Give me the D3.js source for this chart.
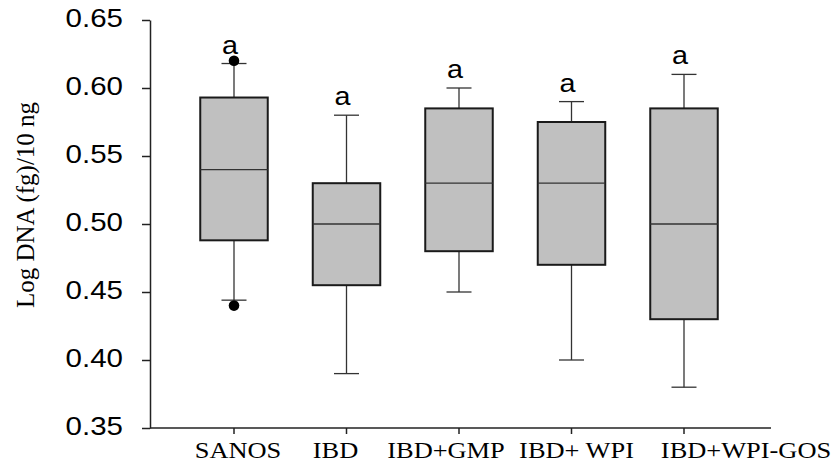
<!DOCTYPE html>
<html>
<head>
<meta charset="utf-8">
<script src="https://cdn.jsdelivr.net/npm/d3@7"></script>
<style>
  html, body { margin: 0; padding: 0; background: #fff; }
  svg { display: block; }
</style>
</head>
<body>
<script>
// Group names and box-plot summaries (10th, 25th, 50th, 75th, 90th percentiles)
const categories = ["SANOS", "IBD", "IBD+GMP", "IBD+ WPI", "IBD+WPI-GOS"];
const whiskerLow  = [0.444, 0.390, 0.450, 0.400, 0.380];
const quartile1   = [0.488, 0.455, 0.480, 0.470, 0.430];
const medians     = [0.540, 0.500, 0.530, 0.530, 0.500];
const quartile3   = [0.593, 0.530, 0.585, 0.575, 0.585];
const whiskerHigh = [0.618, 0.580, 0.600, 0.590, 0.610];
// Points outside the whiskers
const outlierGroups = ["SANOS", "SANOS"];
const outlierValues = [0.620, 0.440];
// Significance letters above each group
const letters = ["a", "a", "a", "a", "a"];
const yTicks = [0.35, 0.40, 0.45, 0.50, 0.55, 0.60, 0.65];

const W = 835, H = 465;
const svg = d3.select("body").append("svg").attr("width", W).attr("height", H);

const y = d3.scaleLinear().domain([0.35, 0.65]).range([428, 20]);
const x = d3.scaleBand().domain(categories).range([177.75, 740.25])
  .paddingInner(0.4).paddingOuter(0.2);

const sans = "'Liberation Sans', Arial, Helvetica, sans-serif";
const serif = "'Liberation Serif', 'Times New Roman', Times, serif";

// Y axis
const tickStretch = 1.18;
const yAxis = svg.append("g").attr("transform", "translate(150,0)")
  .call(d3.axisLeft(y).tickValues(yTicks).tickFormat(d3.format(".2f"))
    .tickSize(8).tickPadding(19).tickSizeOuter(0));
yAxis.select(".domain").attr("stroke", "#222").attr("stroke-width", 1.5);
yAxis.selectAll(".tick line").attr("stroke", "#222").attr("stroke-width", 1.5);
yAxis.selectAll(".tick text")
  .attr("font-family", sans).attr("font-size", 25).attr("fill", "#000")
  .attr("x", -27 / tickStretch).attr("y", -2)
  .attr("transform", `scale(${tickStretch},1)`);

// X axis line with ticks under each group
const xAxisG = svg.append("g");
xAxisG.append("line").attr("x1", 150).attr("x2", 771)
  .attr("y1", y(0.35)).attr("y2", y(0.35))
  .attr("stroke", "#222").attr("stroke-width", 1.5);
const labelShift = [4, -11, -13, 5, 62];
const labelStretch = 1.1;
categories.forEach((c, i) => {
  const cx = x(c) + x.bandwidth() / 2;
  xAxisG.append("line").attr("x1", cx).attr("x2", cx)
    .attr("y1", y(0.35)).attr("y2", y(0.35) + 6)
    .attr("stroke", "#222").attr("stroke-width", 1.5);
  xAxisG.append("text")
    .attr("transform", `translate(${cx + labelShift[i]},458) scale(${labelStretch},1)`)
    .attr("text-anchor", "middle")
    .attr("font-family", serif).attr("font-size", 24).attr("fill", "#000")
    .text(c);
});

// Y axis title
svg.append("text")
  .attr("transform", "translate(34,205) rotate(-90)")
  .attr("text-anchor", "middle")
  .attr("font-family", serif).attr("font-size", 25).attr("fill", "#000")
  .text("Log DNA (fg)/10 ng");

// Boxes
const boxes = svg.append("g");
const capW = 25;
categories.forEach((c, i) => {
  const x0 = x(c), bw = x.bandwidth(), cx = x0 + bw / 2;
  const g = boxes.append("g");
  // whiskers
  g.append("line").attr("x1", cx).attr("x2", cx)
    .attr("y1", y(quartile3[i])).attr("y2", y(whiskerHigh[i]))
    .attr("stroke", "#333").attr("stroke-width", 1.3);
  g.append("line").attr("x1", cx).attr("x2", cx)
    .attr("y1", y(quartile1[i])).attr("y2", y(whiskerLow[i]))
    .attr("stroke", "#333").attr("stroke-width", 1.3);
  [whiskerHigh[i], whiskerLow[i]].forEach(v => {
    g.append("line").attr("x1", cx - capW / 2).attr("x2", cx + capW / 2)
      .attr("y1", y(v)).attr("y2", y(v))
      .attr("stroke", "#333").attr("stroke-width", 1.3);
  });
  // box
  g.append("rect").attr("x", x0).attr("width", bw)
    .attr("y", y(quartile3[i])).attr("height", y(quartile1[i]) - y(quartile3[i]))
    .attr("fill", "#c0c0c0").attr("stroke", "#1a1a1a").attr("stroke-width", 2);
  // median
  g.append("line").attr("x1", x0).attr("x2", x0 + bw)
    .attr("y1", y(medians[i])).attr("y2", y(medians[i]))
    .attr("stroke", "#333").attr("stroke-width", 1.3);
  // letter
  g.append("text")
    .attr("transform", `translate(${cx - 4},${y(whiskerHigh[i]) - 10}) scale(1.15,1)`)
    .attr("text-anchor", "middle")
    .attr("font-family", sans).attr("font-size", 25).attr("fill", "#000")
    .text(letters[i]);
});

// Outliers
svg.append("g").selectAll("circle")
  .data(outlierValues.map((v, i) => ({ g: outlierGroups[i], v })))
  .join("circle")
  .attr("cx", d => x(d.g) + x.bandwidth() / 2)
  .attr("cy", d => y(d.v))
  .attr("r", 5.3).attr("fill", "#000");
</script>
</body>
</html>
